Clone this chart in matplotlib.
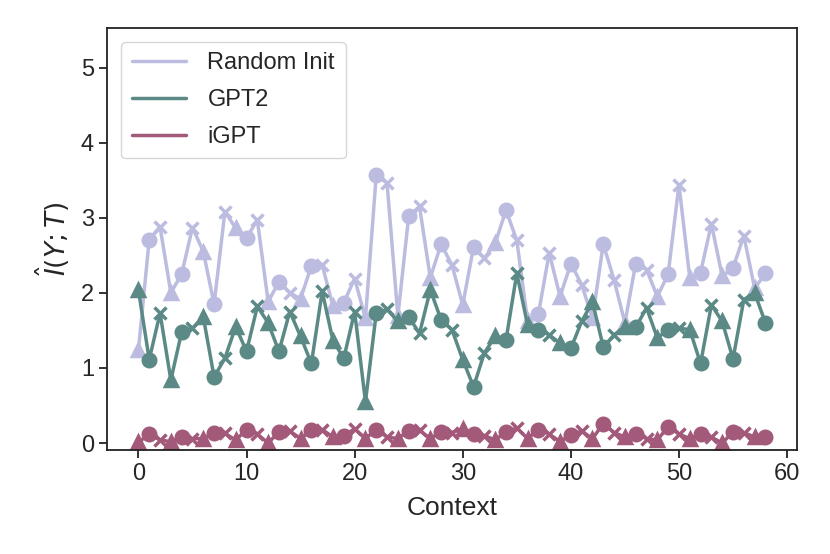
import matplotlib
matplotlib.use('Agg')
import matplotlib.pyplot as plt
import seaborn as sns
import numpy as np

# context index
context = np.arange(59)

# estimated mutual information per context
random_init = [1.24, 2.71, 2.88, 2.00, 2.25, 2.87, 2.55, 1.85, 3.08, 2.86,
               2.73, 2.97, 1.88, 2.15, 2.00, 1.92, 2.36, 2.37, 1.82, 1.87,
               2.19, 1.66, 3.57, 3.46, 1.69, 3.02, 3.15, 2.20, 2.65, 2.37,
               1.84, 2.61, 2.46, 2.66, 3.10, 2.70, 1.62, 1.72, 2.53, 1.95,
               2.39, 2.11, 1.66, 2.65, 2.17, 1.60, 2.39, 2.31, 1.95, 2.25,
               3.44, 2.20, 2.27, 2.92, 2.22, 2.33, 2.76, 2.06, 2.26]
gpt2 = [2.04, 1.11, 1.73, 0.84, 1.48, 1.53, 1.68, 0.88, 1.13, 1.55,
        1.22, 1.82, 1.60, 1.22, 1.75, 1.42, 1.06, 2.02, 1.36, 1.13,
        1.75, 0.55, 1.73, 1.78, 1.62, 1.68, 1.46, 2.04, 1.64, 1.51,
        1.11, 0.75, 1.20, 1.42, 1.37, 2.26, 1.57, 1.51, 1.44, 1.33,
        1.26, 1.62, 1.88, 1.28, 1.44, 1.55, 1.54, 1.80, 1.40, 1.51,
        1.53, 1.51, 1.06, 1.84, 1.62, 1.12, 1.91, 2.00, 1.60]
igpt = [0.01, 0.12, 0.04, 0.02, 0.08, 0.06, 0.06, 0.14, 0.13, 0.04,
        0.18, 0.12, 0.00, 0.15, 0.16, 0.06, 0.17, 0.18, 0.08, 0.10,
        0.19, 0.06, 0.18, 0.08, 0.06, 0.16, 0.17, 0.06, 0.15, 0.14,
        0.19, 0.12, 0.10, 0.04, 0.15, 0.20, 0.06, 0.18, 0.12, 0.02,
        0.11, 0.16, 0.06, 0.26, 0.14, 0.08, 0.12, 0.06, 0.04, 0.22,
        0.12, 0.06, 0.12, 0.08, 0.00, 0.15, 0.14, 0.08, 0.08]

names = ['Random Init', 'GPT2', 'iGPT']
colors = ['#bcbce0', '#5b8a86', '#a3597a']
markers = ['^', 'o', 'x']

sns.set_style('ticks')
plt.rcParams['font.family'] = ['Liberation Sans', 'DejaVu Sans']

fig, ax = plt.subplots(figsize=(8.3, 5.54), dpi=100)
fig.subplots_adjust(left=0.129, right=0.96, top=0.95, bottom=0.188)

for name, vals, c in zip(names, [random_init, gpt2, igpt], colors):
    vals = np.array(vals)
    ax.plot(context, vals, color=c, linewidth=2.5, label=name)
    # marker shape cycles with the context index
    for k, m in enumerate(markers):
        ax.plot(context[k::3], vals[k::3], linestyle='none', marker=m,
                color=c, markersize=9, markeredgewidth=2.5)

ax.set_xlim(-2.9, 60.9)
ax.set_ylim(-0.09, 5.53)
ax.set_xticks([0, 10, 20, 30, 40, 50, 60])
ax.set_yticks([0, 1, 2, 3, 4, 5])
ax.set_xlabel('Context', fontsize=19, labelpad=8)
ax.set_ylabel(r'$\hat{I}(Y;T)$', fontsize=19, labelpad=6)
ax.tick_params(axis='both', labelsize=17, length=6, width=1.3, color='#222222')
for s in ax.spines.values():
    s.set_linewidth(1.3)
    s.set_color('#222222')

ax.legend(loc='upper left', fontsize=17, handlelength=2.3, borderpad=0.45,
          labelspacing=0.62, handletextpad=0.9, borderaxespad=0.6)

fig.savefig('out.png', dpi=100)
